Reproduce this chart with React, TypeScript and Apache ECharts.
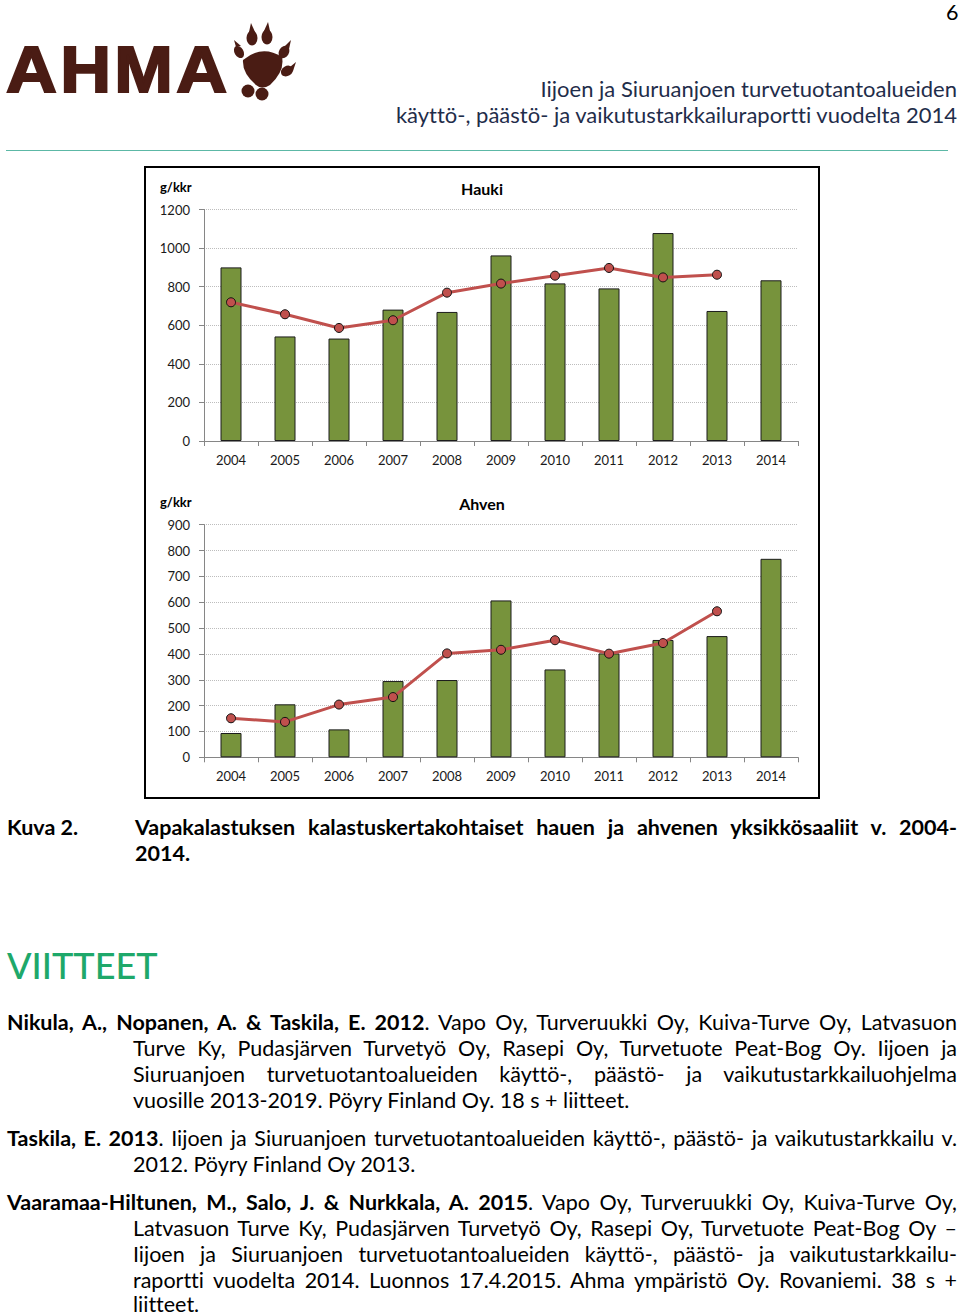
import React, { useEffect, useRef } from "react";
import * as echarts from "echarts";

const years = ["2004", "2005", "2006", "2007", "2008", "2009", "2010", "2011", "2012", "2013", "2014"];
const haukiBars = [900, 542, 531, 681, 669, 962, 817, 791, 1078, 674, 833];
const haukiLine = [719, 657, 586, 626, 769, 816, 857, 897, 848, 862, null];
const ahvenBars = [94, 205, 108, 295, 299, 607, 340, 402, 454, 469, 768];
const ahvenLine = [151, 137, 204, 233, 402, 416, 453, 401, 442, 565, null];
const haukiTitle = "Hauki";
const ahvenTitle = "Ahven";
const unitLabel = "g/kkr";

const FONT = "Lato, 'Noto Sans', sans-serif";
const BAR = "#77933c";
const LINE = "#c0504d";
const NAVY = "#1f2d4a";
const FS = 21.5;

function ChartLayer() {
  const ref = useRef<HTMLDivElement>(null);
  useEffect(() => {
    const chart = echarts.init(ref.current!, undefined, { renderer: "svg" });
    const axisCommon = {
      axisLine: { show: true, lineStyle: { color: "#868686", width: 1 } },
      axisTick: { show: true, length: 5, lineStyle: { color: "#868686" } },
    };
    const xAx = (gi: number) => ({
      type: "category",
      gridIndex: gi,
      data: years,
      boundaryGap: true,
      ...axisCommon,
      axisTick: { show: true, length: 5, alignWithLabel: false, lineStyle: { color: "#868686" } },
      axisLabel: { color: "#1a1a1a", fontFamily: FONT, fontSize: 13, margin: 12 },
    });
    const yAx = (gi: number, max: number, interval: number) => ({
      type: "value",
      gridIndex: gi,
      min: 0,
      max,
      interval,
      ...axisCommon,
      axisLabel: { color: "#1a1a1a", fontFamily: FONT, fontSize: 13, margin: 14, formatter: (v: number) => String(v) },
      splitLine: { show: true, lineStyle: { color: "#bdbdbd", type: [1, 1], width: 1 } },
    });
    const barS = (gi: number, data: number[]) => ({
      type: "bar",
      xAxisIndex: gi,
      yAxisIndex: gi,
      data,
      barWidth: 21,
      itemStyle: { color: BAR, borderColor: "#1c1c1c", borderWidth: 1 },
      z: 2,
    });
    const lineS = (gi: number, data: (number | null)[]) => ({
      type: "line",
      xAxisIndex: gi,
      yAxisIndex: gi,
      data,
      symbol: "circle",
      symbolSize: 9,
      showSymbol: true,
      connectNulls: false,
      lineStyle: { color: LINE, width: 3 },
      itemStyle: { color: LINE, borderColor: "#111", borderWidth: 1 },
      z: 3,
    });
    chart.setOption({
      animation: false,
      grid: [
        { left: 204, right: 162, top: 209.5, height: 231.5 },
        { left: 204, right: 162, top: 524.7, height: 232.6 },
      ],
      xAxis: [xAx(0), xAx(1)],
      yAxis: [yAx(0, 1200, 200), yAx(1, 900, 100)],
      series: [barS(0, haukiBars), lineS(0, haukiLine), barS(1, ahvenBars), lineS(1, ahvenLine)],
      graphic: [
        { type: "rect", shape: { x: 145, y: 167, width: 674, height: 631 }, style: { fill: "none", stroke: "#000", lineWidth: 2 }, silent: true },
        { type: "text", x: 160, y: 187, style: { text: unitLabel, fontFamily: FONT, fontSize: 13, fontWeight: "bold", fill: "#000", textVerticalAlign: "middle" } },
        { type: "text", x: 482, y: 188, style: { text: haukiTitle, fontFamily: FONT, fontSize: 16, fontWeight: "bold", fill: "#000", textAlign: "center", textVerticalAlign: "middle" } },
        { type: "text", x: 160, y: 502, style: { text: unitLabel, fontFamily: FONT, fontSize: 13, fontWeight: "bold", fill: "#000", textVerticalAlign: "middle" } },
        { type: "text", x: 482, y: 503, style: { text: ahvenTitle, fontFamily: FONT, fontSize: 16, fontWeight: "bold", fill: "#000", textAlign: "center", textVerticalAlign: "middle" } },
      ],
    });
    return () => chart.dispose();
  }, []);
  return <div ref={ref} style={{ position: "absolute", left: 0, top: 0, width: 960, height: 1316 }} />;
}

function Paw() {
  const c = "#4a1c14";
  return (
    <svg width={960} height={120} style={{ position: "absolute", left: 0, top: 0 }}>
      <path d="M243,60 Q262,44 282,57 Q285,71 270,85 Q262,90 256,85 Q242,73 243,60 Z" fill={c} />
      <ellipse cx={252} cy={38} rx={5.5} ry={7.5} fill={c} />
      <ellipse cx={267} cy={37} rx={5.5} ry={7.5} fill={c} />
      <polygon points="249,32 251,23 255,32" fill={c} />
      <polygon points="264,31 268,22 270,31" fill={c} />
      <ellipse cx={239} cy={52} rx={4.5} ry={6.5} fill={c} transform="rotate(-30 239 52)" />
      <polygon points="236,47 234,40 241,46" fill={c} />
      <ellipse cx={284} cy={52} rx={5} ry={6.5} fill={c} transform="rotate(30 284 52)" />
      <polygon points="285,46 291,40 289,49" fill={c} />
      <ellipse cx={287} cy={71} rx={5} ry={6.5} fill={c} transform="rotate(60 287 71)" />
      <polygon points="290,67 296,62 293,71" fill={c} />
      <circle cx={248} cy={91} r={6.5} fill={c} />
      <circle cx={262} cy={94} r={6.5} fill={c} />
    </svg>
  );
}

const abs = (left: number, top: number, extra: React.CSSProperties = {}): React.CSSProperties => ({
  position: "absolute",
  left,
  top,
  whiteSpace: "nowrap",
  ...extra,
});

function Line({ top, left, justify, children, bold, h = 26 }: { top: number; left: number; justify?: boolean; children: React.ReactNode; bold?: boolean; h?: number }) {
  return (
    <div
      style={{
        position: "absolute",
        left,
        width: 957 - left,
        top: top - h / 2,
        height: h,
        lineHeight: h + "px",
        fontSize: FS,
        fontFamily: FONT,
        color: "#000",
        fontWeight: bold ? "bold" : "normal",
        textAlign: justify ? "justify" : "left",
        textAlignLast: justify ? "justify" : "left",
        whiteSpace: "nowrap",
        fontVariantLigatures: "none",
      }}
    >
      {children}
    </div>
  );
}

export default function App() {
  useEffect(() => {
    document.body.style.margin = "0";
  }, []);
  return (
    <div style={{ position: "relative", width: 960, height: 1316, background: "#fff", overflow: "hidden", fontFamily: FONT, fontVariantLigatures: "none" }}>
      <ChartLayer />
      <div style={abs(946, 0, { fontSize: FS, lineHeight: "24px", color: "#000" })}>6</div>
      <div
        style={abs(6, 32, {
          fontFamily: "'Liberation Sans', Arial, sans-serif",
          fontWeight: 900,
          fontSize: 64,
          lineHeight: "76px",
          color: "#4a1c14",
          letterSpacing: 3,
          transform: "scaleX(1.1)",
          transformOrigin: "left center",
          WebkitTextStroke: "2px #4a1c14",
        })}
      >
        AHMA
      </div>
      <Paw />
      <div style={{ position: "absolute", right: 3, top: 76, textAlign: "right", fontSize: 22, lineHeight: "26px", color: NAVY, whiteSpace: "nowrap" }}>
        Iijoen ja Siuruanjoen turvetuotantoalueiden
        <br />
        käyttö-, päästö- ja vaikutustarkkailuraportti vuodelta 2014
      </div>
      <div style={{ position: "absolute", left: 6, top: 150, width: 942, height: 1, background: "#5cb8a6" }} />

      <Line top={827} left={7} bold>
        Kuva 2.
      </Line>
      <Line top={827} left={135} bold justify>
        Vapakalastuksen kalastuskertakohtaiset hauen ja ahvenen yksikkösaaliit v. 2004-
      </Line>
      <Line top={853} left={135} bold>
        2014.
      </Line>

      <div style={abs(7, 944, { fontSize: 36, lineHeight: "42px", color: "#1ea86a", fontWeight: 500 })}>VIITTEET</div>

      <Line top={1022} left={7} justify>
        <b>Nikula, A., Nopanen, A. &amp; Taskila, E. 2012</b>. Vapo Oy, Turveruukki Oy, Kuiva-Turve Oy, Latvasuon
      </Line>
      <Line top={1048} left={133} justify>
        Turve Ky, Pudasjärven Turvetyö Oy, Rasepi Oy, Turvetuote Peat-Bog Oy. Iijoen ja
      </Line>
      <Line top={1074} left={133} justify>
        Siuruanjoen turvetuotantoalueiden käyttö-, päästö- ja vaikutustarkkailuohjelma
      </Line>
      <Line top={1100} left={133}>
        vuosille 2013-2019. Pöyry Finland Oy. 18 s + liitteet.
      </Line>

      <Line top={1138} left={7} justify>
        <b>Taskila, E. 2013</b>. Iijoen ja Siuruanjoen turvetuotantoalueiden käyttö-, päästö- ja vaikutustarkkailu v.
      </Line>
      <Line top={1164} left={133}>
        2012. Pöyry Finland Oy 2013.
      </Line>

      <Line top={1202} left={7} justify>
        <b>Vaaramaa-Hiltunen, M., Salo, J. &amp; Nurkkala, A. 2015</b>. Vapo Oy, Turveruukki Oy, Kuiva-Turve Oy,
      </Line>
      <Line top={1228} left={133} justify>
        Latvasuon Turve Ky, Pudasjärven Turvetyö Oy, Rasepi Oy, Turvetuote Peat-Bog Oy –
      </Line>
      <Line top={1254} left={133} justify>
        Iijoen ja Siuruanjoen turvetuotantoalueiden käyttö-, päästö- ja vaikutustarkkailu-
      </Line>
      <Line top={1280} left={133} justify>
        raportti vuodelta 2014. Luonnos 17.4.2015. Ahma ympäristö Oy. Rovaniemi. 38 s +
      </Line>
      <Line top={1304} left={133} h={20}>
        liitteet.
      </Line>
    </div>
  );
}
